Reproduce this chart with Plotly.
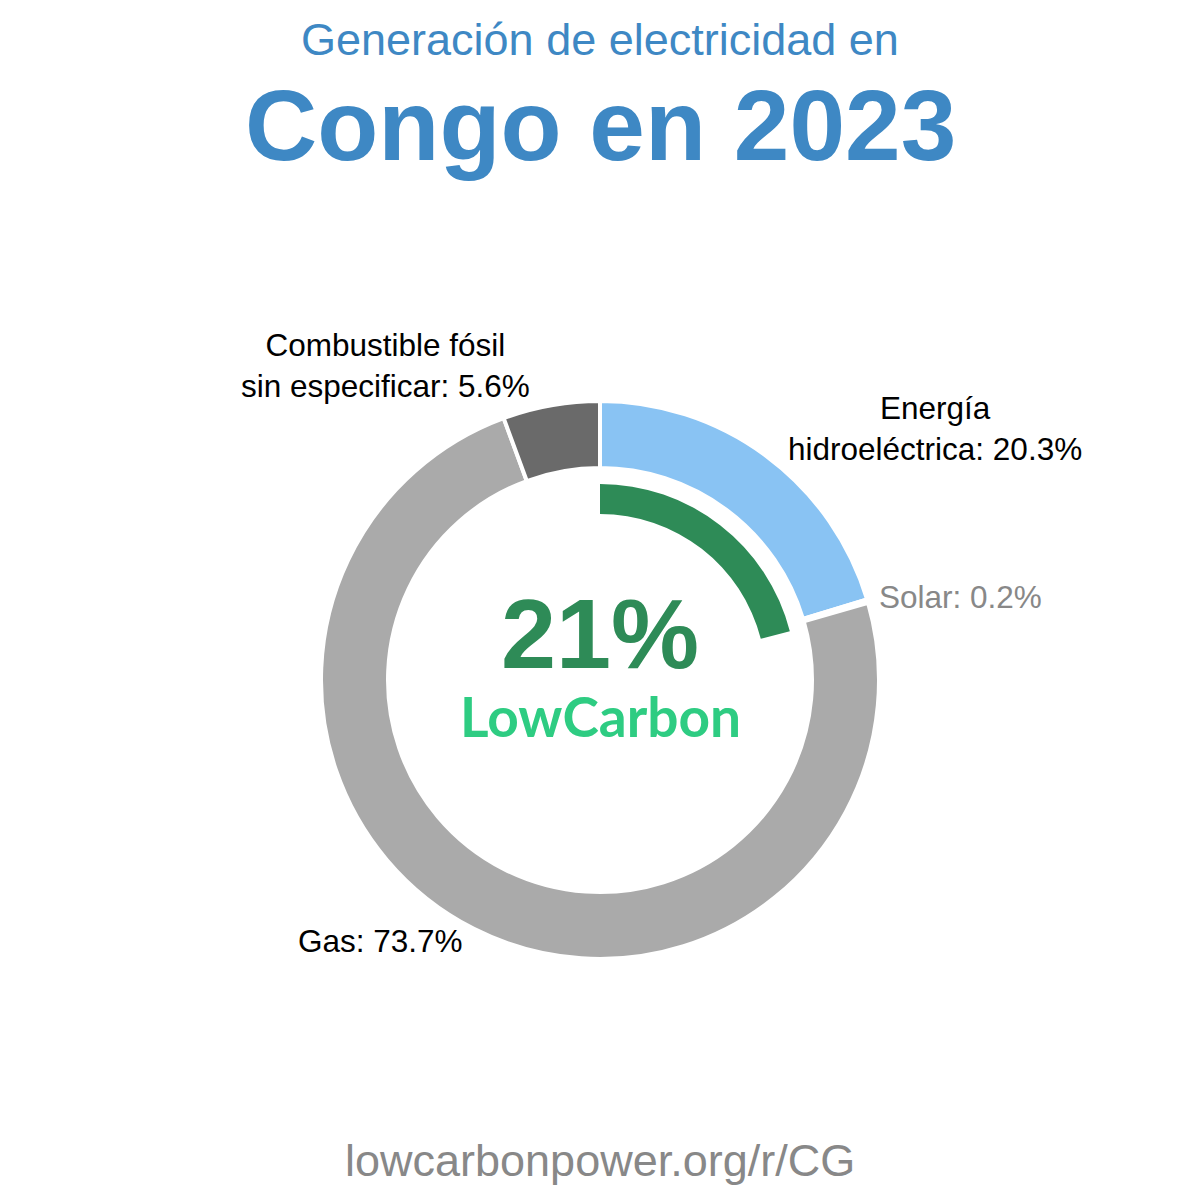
import plotly.graph_objects as go

categories = ["Energía hidroeléctrica", "Solar", "Gas", "Combustible fósil sin especificar"]
values = [20.3, 0.2, 73.7, 5.6]
colors = ["#89C3F3", "#FFD400", "#AAAAAA", "#6A6A6A"]
low_carbon = 21

label_texts = ["Energía<br>hidroeléctrica: 20.3%", "Solar: 0.2%", "Gas: 73.7%",
               "Combustible fósil<br>sin especificar: 5.6%"]

W = H = 1200
cx, cy = 600, 680
R_out, R_in = 279, 212
G_out, G_in = 196, 166

def dom(r):
    return dict(x=[(cx - r) / W, (cx + r) / W], y=[1 - (cy + r) / H, 1 - (cy - r) / H])

fig = go.Figure()
fig.add_trace(go.Pie(
    labels=categories, values=values, sort=False, direction="clockwise", rotation=0,
    hole=R_in / R_out, marker=dict(colors=colors, line=dict(color="white", width=4)),
    textinfo="none", hoverinfo="label+percent", domain=dom(R_out), showlegend=False))
fig.add_trace(go.Pie(
    labels=["Baja en carbono", "Resto"], values=[low_carbon, 100 - low_carbon], sort=False,
    direction="clockwise", rotation=0, hole=G_in / G_out,
    marker=dict(colors=["#2E8B57", "rgba(0,0,0,0)"], line=dict(width=0)),
    textinfo="none", hoverinfo="skip", domain=dom(G_out), showlegend=False))

font = "Liberation Sans, Arial, sans-serif"
ann = []
def a(text, x, y, size, color, xanchor="center", fam=font):
    ann.append(dict(text=text, x=x / W, y=1 - y / H, xref="paper", yref="paper",
                    xanchor=xanchor, yanchor="middle", showarrow=False,
                    font=dict(size=size, color=color, family=fam)))

a("Generación de electricidad en", 600, 40, 45, "#3E88C4")
a("<b>Congo en 2023</b>", 600, 125, 100, "#3E88C4")
a(label_texts[3], 385, 365, 31.5, "#000000")
a(label_texts[0], 935, 428, 31.5, "#000000")
a(label_texts[1], 877, 597, 31.5, "#888888", xanchor="left")
a(label_texts[2], 380, 941, 31.5, "#000000")
a(f"<b>{low_carbon}%</b>", 600, 633, 99, "#2E8B57")
a("<b>LowCarbon</b>", 600, 716, 55, "#2ECC82", fam="Lato, sans-serif")
a("lowcarbonpower.org/r/CG", 600, 1160, 45, "#888888")

fig.update_layout(width=W, height=H, margin=dict(l=0, r=0, t=0, b=0),
                  paper_bgcolor="white", plot_bgcolor="white", annotations=ann)
fig.write_html("out.html")
